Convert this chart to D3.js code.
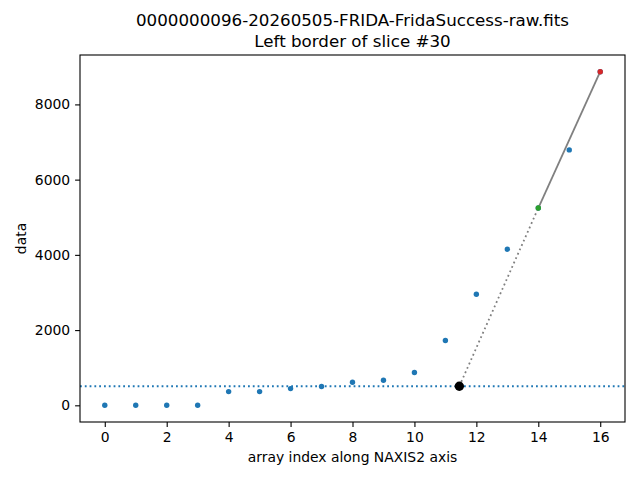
<!DOCTYPE html>
<meta charset="utf-8">
<style>
    body { margin: 0; background: white; }
    svg text { font-family: "DejaVu Sans", sans-serif; fill: black; }
    .tick text { font-size: 13.9px; }
    .tick line, .domain { stroke: black; stroke-width: 1.1px; }
</style>
<svg id="chart" width="640" height="480"></svg>
<script src="https://cdn.jsdelivr.net/npm/d3@7"></script>
<script>
    // values
    const indices = [0, 1, 2, 3, 4, 5, 6, 7, 8, 9, 10, 11, 12, 13, 14, 15, 16];
    const values = [0, 0, 0, 0, 365, 365, 445, 500, 613, 667, 872, 1725, 2952, 4150, 5245, 6790, 8870];
    const threshold = 507;
    const crossX = 11.45;
    const fitStart = 14;   // green point
    const fitEnd = 16;     // red point
    const xTicks = [0, 2, 4, 6, 8, 10, 12, 14, 16];
    const yTicks = [0, 2000, 4000, 6000, 8000];
    const titleLines = ["0000000096-20260505-FRIDA-FridaSuccess-raw.fits", "Left border of slice #30"];

    const axLeft = 80, axRight = 625, axTop = 55, axBottom = 422;
    const svg = d3.select("#chart");

    // matplotlib-like 5% margins
    const xMin = d3.min(indices), xMax = d3.max(indices);
    const yMin = d3.min(values), yMax = d3.max(values);
    const xPad = (xMax - xMin) * 0.05, yPad = (yMax - yMin) * 0.05;

    const x = d3.scaleLinear().domain([xMin - xPad, xMax + xPad]).range([axLeft, axRight]);
    const y = d3.scaleLinear().domain([yMin - yPad, yMax + yPad]).range([axBottom, axTop]);

    const points = indices.map((d, i) => ({x: d, y: values[i]}));

    // threshold line
    svg.append("line")
        .attr("x1", axLeft).attr("x2", axRight)
        .attr("y1", y(threshold)).attr("y2", y(threshold))
        .attr("stroke", "#1f77b4").attr("stroke-width", 1.8)
        .attr("stroke-dasharray", "1.8,3");

    // data points
    svg.append("g").selectAll("circle")
        .data(points)
        .join("circle")
        .attr("cx", d => x(d.x))
        .attr("cy", d => y(d.y))
        .attr("r", 2.7)
        .attr("fill", "#1f77b4");

    const pStart = points[indices.indexOf(fitStart)];
    const pEnd = points[indices.indexOf(fitEnd)];

    // extrapolation down to the crossing
    svg.append("line")
        .attr("x1", x(crossX)).attr("y1", y(threshold))
        .attr("x2", x(pStart.x)).attr("y2", y(pStart.y))
        .attr("stroke", "gray").attr("stroke-width", 1.8)
        .attr("stroke-dasharray", "1.8,3");

    // fit segment
    svg.append("line")
        .attr("x1", x(pStart.x)).attr("y1", y(pStart.y))
        .attr("x2", x(pEnd.x)).attr("y2", y(pEnd.y))
        .attr("stroke", "gray").attr("stroke-width", 1.8);

    svg.append("circle")
        .attr("cx", x(pStart.x)).attr("cy", y(pStart.y))
        .attr("r", 2.7).attr("fill", "#2ca02c");
    svg.append("circle")
        .attr("cx", x(pEnd.x)).attr("cy", y(pEnd.y))
        .attr("r", 2.7).attr("fill", "#d62728");

    svg.append("circle")
        .attr("cx", x(crossX)).attr("cy", y(threshold))
        .attr("r", 4.7).attr("fill", "black");

    // axes
    svg.append("g")
        .attr("transform", `translate(0,${axBottom})`)
        .call(d3.axisBottom(x).tickValues(xTicks).tickSize(4.9).tickPadding(4.9).tickFormat(d3.format("d")))
        .call(g => g.select(".domain").remove());
    svg.append("g")
        .attr("transform", `translate(${axLeft},0)`)
        .call(d3.axisLeft(y).tickValues(yTicks).tickSize(4.9).tickPadding(4.9).tickFormat(d3.format("d")))
        .call(g => g.select(".domain").remove());

    svg.append("rect")
        .attr("x", axLeft).attr("y", axTop)
        .attr("width", axRight - axLeft).attr("height", axBottom - axTop)
        .attr("fill", "none").attr("stroke", "black").attr("stroke-width", 1.1);

    // labels
    svg.append("text")
        .attr("x", (axLeft + axRight) / 2).attr("y", 462)
        .attr("text-anchor", "middle").attr("font-size", "13.9px")
        .text("array index along NAXIS2 axis");
    svg.append("text")
        .attr("transform", `translate(26,${(axTop + axBottom) / 2}) rotate(-90)`)
        .attr("text-anchor", "middle").attr("font-size", "13.9px")
        .text("data");

    svg.append("g").selectAll("text")
        .data(titleLines)
        .join("text")
        .attr("x", (axLeft + axRight) / 2)
        .attr("y", (d, i) => 26 + i * 20.5)
        .attr("text-anchor", "middle")
        .attr("font-size", "16.7px")
        .text(d => d);
</script>
